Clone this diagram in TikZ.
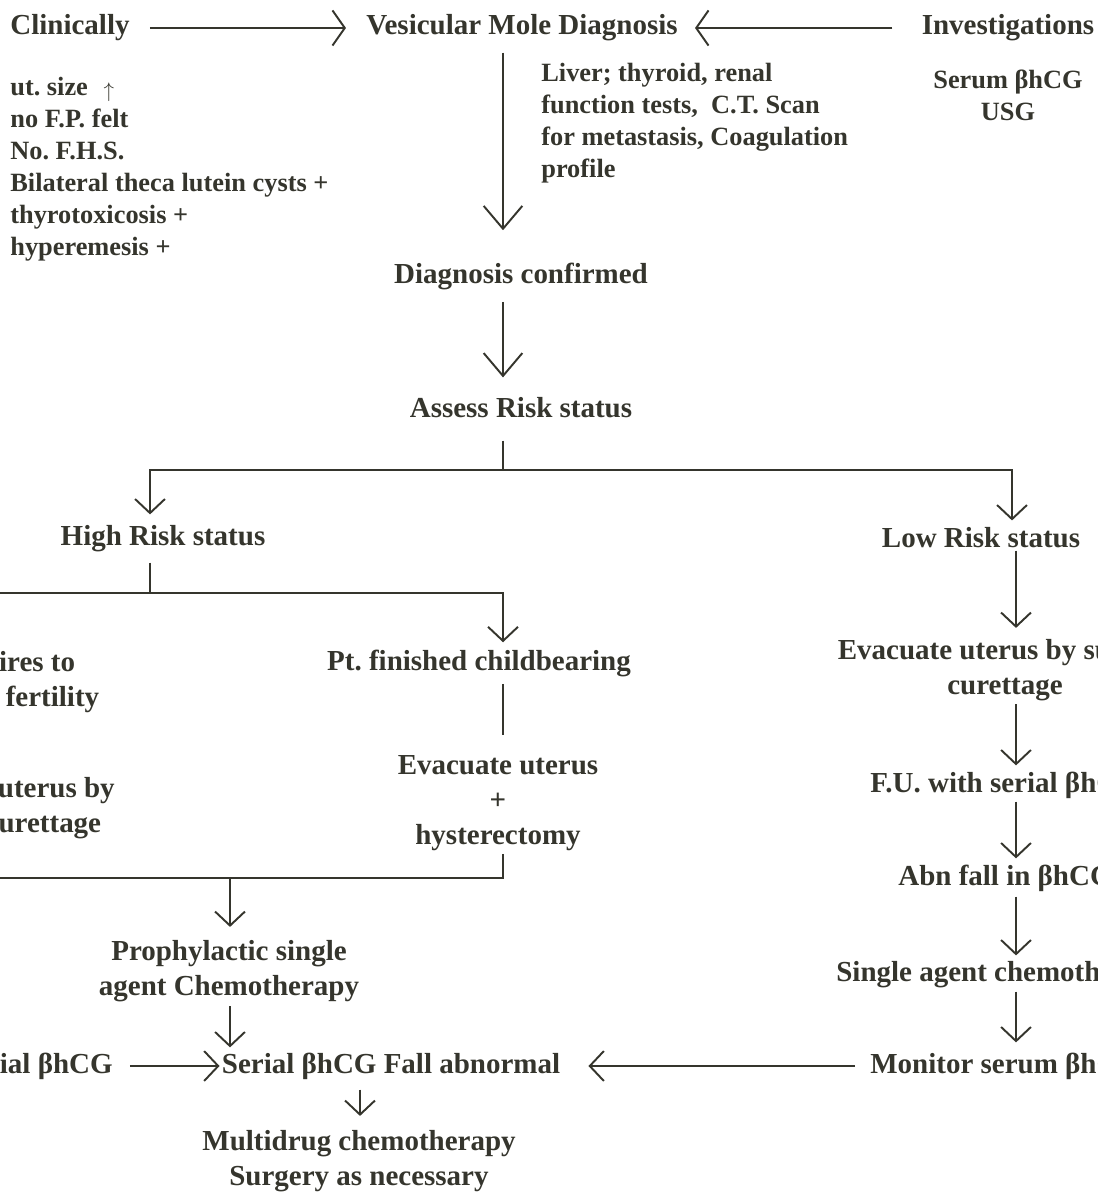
\documentclass[tikz,border=0pt]{standalone}
\usepackage{fontspec}
\setmainfont{Liberation Serif}
\usetikzlibrary{arrows.meta,calc}
\definecolor{ink}{HTML}{35352D}
\frenchspacing
\tikzset{
  lbl/.style={font=\fontsize{16.5}{19.9}\selectfont\bfseries, text=ink, inner sep=0pt, align=center, yshift=-0.06cm},
  note/.style={font=\fontsize{15}{18.2}\selectfont\bfseries, text=ink, inner sep=0pt, align=left},
  ln/.style={draw=ink, line width=1.1pt},
  arr/.style={ln, -{Straight Barb[length=8pt,width=17pt]}},
  bigarr/.style={ln, -{Straight Barb[length=13pt,width=22pt]}},
  harr/.style={ln, -{Straight Barb[length=7pt,width=20pt]}},
}

\begin{document}
\begin{tikzpicture}[x=0.02cm, y=-0.02cm]
    \useasboundingbox (0,0) rectangle (1098,1196);
    \clip (0,0) rectangle (1098,1196);

    % Columns of the connectors
    \coordinate (colM) at (503,0);
    \coordinate (colH) at (150,0);
    \coordinate (colP) at (230,0);
    \coordinate (colF) at (360,0);
    \coordinate (colL) at (1012,0);
    \coordinate (colR) at (1016,0);

    % ----------------------------------------------------
    % Diagnosis
    % ----------------------------------------------------
    \node[lbl, anchor=west] (clin) at (10,25) {Clinically};
    \node[lbl] (vmd) at (522,25) {Vesicular Mole Diagnosis};
    \node[lbl] (inv) at (1008,25) {Investigations};
    \node[note, anchor=north west] (signs) at (10,77) {ut. size\hspace{9pt}\raisebox{-1pt}{\fontsize{12.5}{12}\selectfont$\uparrow$}\\no F.P. felt\\No. F.H.S.\\Bilateral theca lutein cysts +\\thyrotoxicosis +\\hyperemesis +};
    \node[note, anchor=north west] (tests) at (541,63) {Liver; thyroid, renal\\function tests,~ C.T. Scan\\for metastasis, Coagulation\\profile};
    \node[note, align=center] (serum) at (1008,95) {Serum βhCG\\USG};
    \draw[harr, shorten <=0.4cm, shorten >=0.4cm] (clin.east) -- (vmd.west);
    \draw[harr, shorten <=0.58cm, shorten >=0.34cm] (inv.west) -- (vmd.east);

    \node[lbl] (dxc) at (521,273) {Diagnosis confirmed};
    \node[lbl] (assess) at (521,405) {Assess Risk status};
    \draw[bigarr, shorten <=0.22cm, shorten >=0.64cm] (vmd.south -| colM) -- (dxc.north -| colM);
    \draw[bigarr, shorten <=0.24cm, shorten >=0.4cm] (dxc.south -| colM) -- (assess.north -| colM);

    % ----------------------------------------------------
    % Risk split
    % ----------------------------------------------------
    \node[lbl] (high) at (163,536) {High Risk status};
    \node[lbl] (low) at (981,535) {Low Risk status};
    \coordinate (split) at (503,470);
    \draw[ln, shorten <=0.44cm] (assess.south -| colM) -- (split);
    \draw[arr, shorten >=0.22cm] (split) -| (high.north -| colH);
    \draw[arr, shorten >=0.14cm] (split) -| (low.north -| colL);

    % ----------------------------------------------------
    % High risk
    % ----------------------------------------------------
    \node[lbl] (pres) at (-4,679) {Pt. desires to\\preserve fertility};
    \node[lbl] (pt) at (479,660) {Pt. finished childbearing};
    \node[lbl] (evl) at (-4.5,805) {Evacuate uterus by\\suction curettage};
    \node[lbl] (evh) at (498,800) {Evacuate uterus\\+\\hysterectomy};
    \coordinate (hsplit) at (150,593);
    \coordinate (hjoin) at (503,878);
    \draw[ln, shorten <=0.2cm] (high.south -| colH) -- (hsplit);
    \draw[ln] (hsplit) -- (hsplit -| pres.west);
    \draw[arr, shorten >=0.14cm] (hsplit) -| (pt.north -| colM);
    \draw[ln, shorten <=0.14cm, shorten >=0.4cm] (pt.south -| colM) -- (evh.north -| colM);
    \draw[ln, shorten <=0.06cm] (evh.south -| colM) -- (hjoin) -- (hjoin -| evl.west);

    \node[lbl] (proph) at (229,968) {Prophylactic single\\agent Chemotherapy};
    \node[lbl] (fall) at (391,1063) {Serial βhCG Fall abnormal};
    \node[lbl, anchor=east] (fuh) at (113,1063) {F.U. with serial βhCG};
    \node[lbl] (multi) at (359,1158) {Multidrug chemotherapy\\Surgery as necessary};
    \draw[arr, shorten >=0.26cm] (hjoin -| colP) -- (proph.north -| colP);
    \draw[arr, shorten <=0.08cm, shorten >=0.1cm] (proph.south -| colP) -- (fall.north -| colP);
    \draw[arr, shorten <=0.34cm, shorten >=0.04cm] (fuh.east) -- (fall.west);
    \draw[arr, shorten <=0.2cm, shorten >=0.28cm] (fall.south -| colF) -- (multi.north -| colF);

    % ----------------------------------------------------
    % Low risk
    % ----------------------------------------------------
    \node[lbl] (evr) at (1005,667) {Evacuate uterus by suction\\curettage};
    \node[lbl, anchor=west] (fur) at (870,782) {F.U. with serial βhCG};
    \node[lbl, anchor=west] (abn) at (898,875) {Abn fall in βhCG};
    \node[lbl, anchor=west] (single) at (836,972) {Single agent chemotherapy};
    \node[lbl, anchor=west] (monitor) at (870,1063) {Monitor serum βhCG};
    \draw[arr, shorten <=0.04cm, shorten >=0.22cm] (low.south -| colR) -- (evr.north -| colR);
    \draw[arr, shorten <=0.06cm, shorten >=0.12cm] (evr.south -| colR) -- (fur.north -| colR);
    \draw[arr, shorten <=0.06cm, shorten >=0.12cm] (fur.south -| colR) -- (abn.north -| colR);
    \draw[arr, shorten <=0.1cm, shorten >=0.12cm] (abn.south -| colR) -- (single.north -| colR);
    \draw[arr, shorten <=0.06cm, shorten >=0.2cm] (single.south -| colR) -- (monitor.north -| colR);
    \draw[arr, shorten <=0.3cm, shorten >=0.56cm] (monitor.west) -- (fall.east);
\end{tikzpicture}
\end{document}
